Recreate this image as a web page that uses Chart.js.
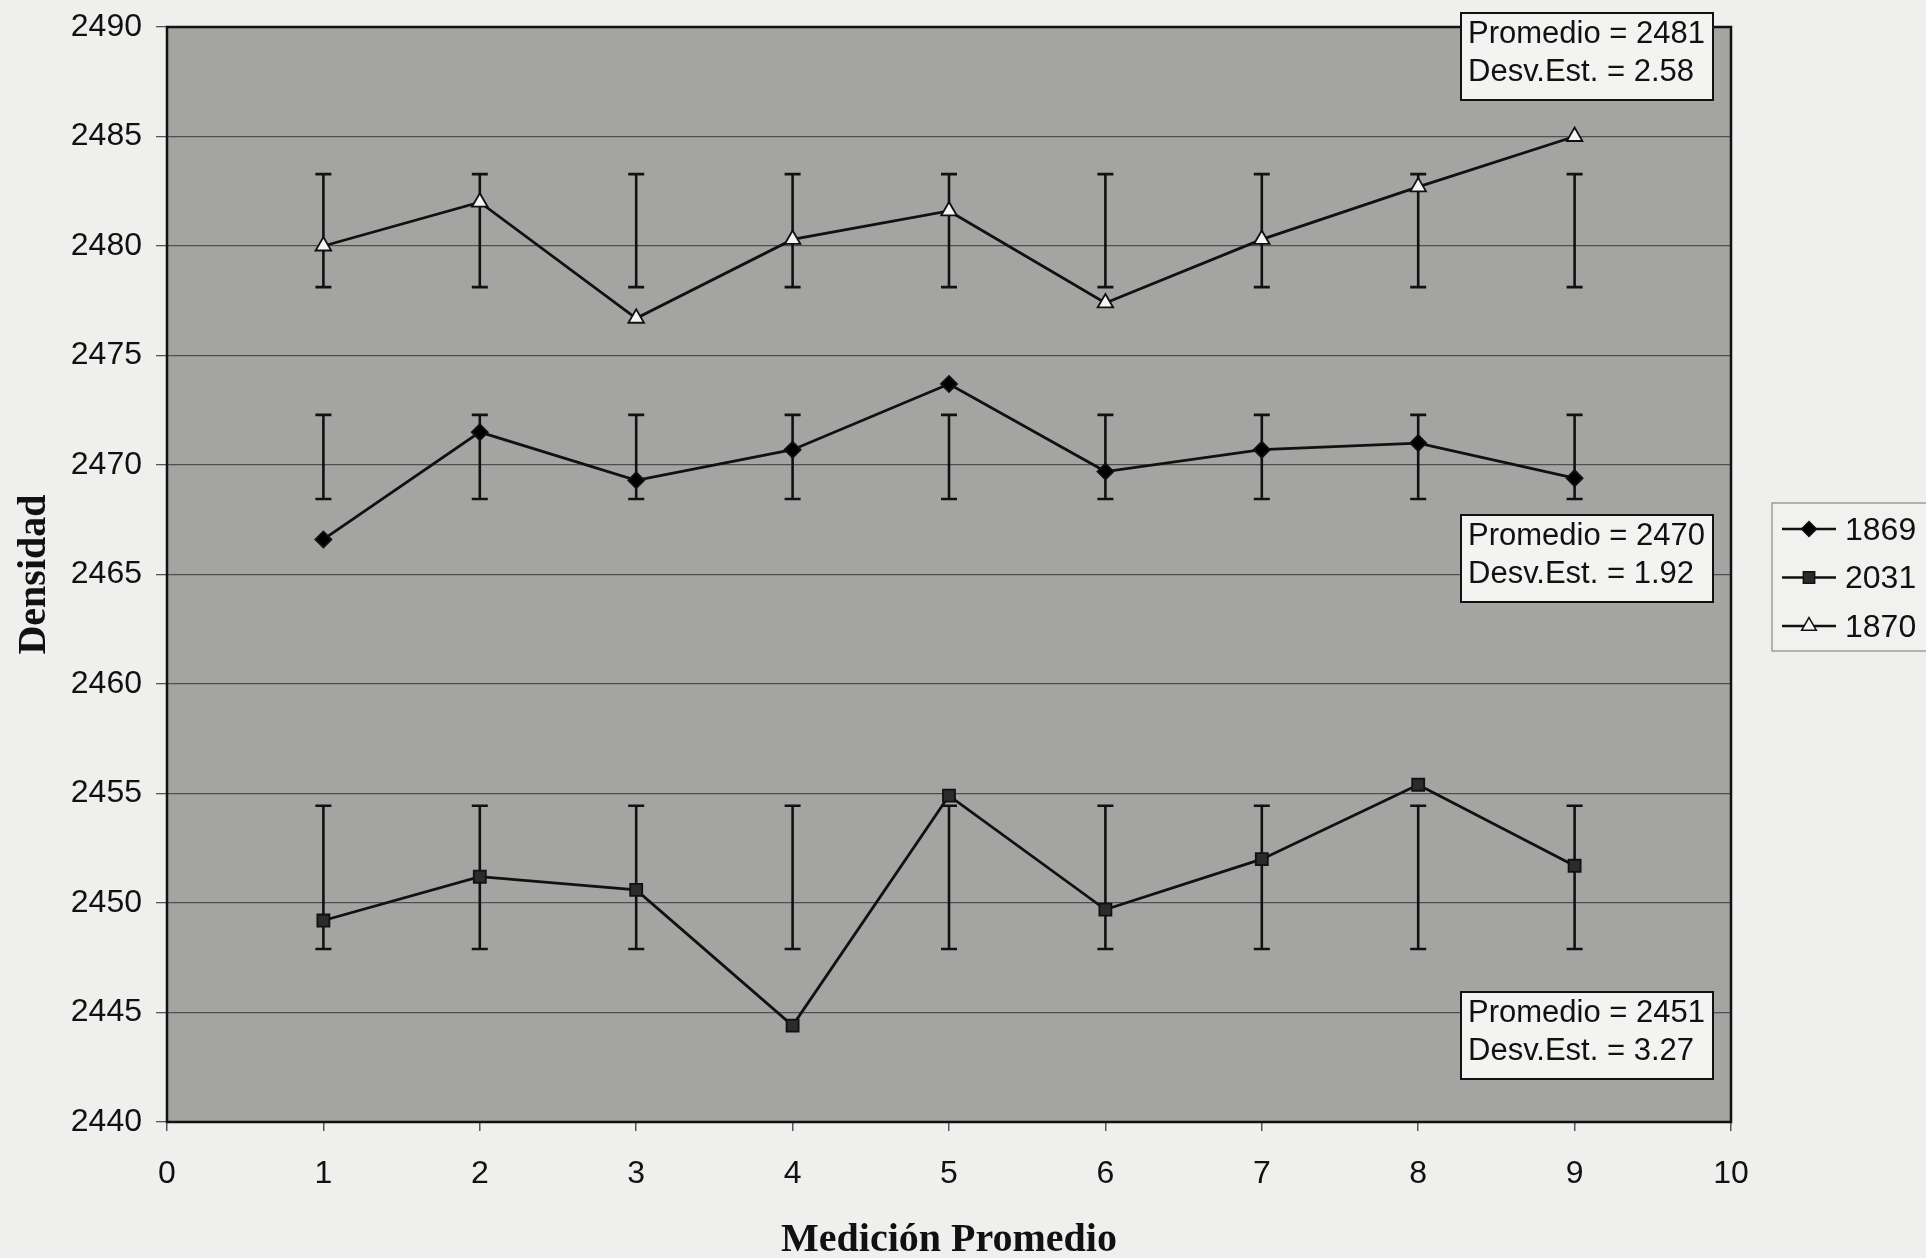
<!DOCTYPE html>
<html>
<head>
<meta charset="utf-8">
<script src="https://cdn.jsdelivr.net/npm/chart.js@4.4.1/dist/chart.umd.min.js"></script>
<style>
  html, body { margin: 0; padding: 0; background: #efefed; }
  canvas { display: block; }
</style>
</head>
<body>
<canvas id="grafico" width="1926" height="1258"></canvas>
<script>
// Datos
const mediciones = [1, 2, 3, 4, 5, 6, 7, 8, 9];
const nombresSeries = ['1869', '2031', '1870'];
const serie1869 = [2466.6, 2471.5, 2469.3, 2470.7, 2473.7, 2469.7, 2470.7, 2471.0, 2469.4];
const serie2031 = [2449.2, 2451.2, 2450.6, 2444.4, 2454.9, 2449.7, 2452.0, 2455.4, 2451.7];
const serie1870 = [2480.0, 2482.0, 2476.7, 2480.3, 2481.6, 2477.4, 2480.3, 2482.7, 2485.0];
// promedio y desviacion estandar por serie (barras de error = promedio +/- desv.)
const promedios = [2470.37, 2451.17, 2480.70];
const desvEst = [1.92, 3.27, 2.58];
const ticksY = [2440, 2445, 2450, 2455, 2460, 2465, 2470, 2475, 2480, 2485, 2490];
const ticksX = [0, 1, 2, 3, 4, 5, 6, 7, 8, 9, 10];

const FUENTE = '"Liberation Sans", Arial, sans-serif';
const FUENTE_SERIF = '"Liberation Serif", "Times New Roman", serif';

const estilos = [
    { pointStyle: 'rectRot', fill: '#000', radius: 8 },
    { pointStyle: 'rect', fill: '#2b2b2b', radius: 8.5 },
    { pointStyle: 'triangle', fill: '#f4f4f2', radius: 9 }
];
const valores = [serie1869, serie2031, serie1870];

// cuadros de texto: indice de serie y posicion vertical
const cuadros = [
    { serie: 2, top: 13 },
    { serie: 0, top: 515 },
    { serie: 1, top: 992 }
];

const fondoPlugin = {
    id: 'fondo',
    beforeDraw(chart) {
        const { ctx, chartArea: a } = chart;
        ctx.save();
        ctx.fillStyle = '#a4a4a3';
        ctx.fillRect(a.left, a.top, a.right - a.left, a.bottom - a.top);
        ctx.restore();
    }
};

const barrasErrorPlugin = {
    id: 'barrasError',
    beforeDatasetsDraw(chart) {
        const { ctx } = chart;
        const x = chart.scales.x, y = chart.scales.y;
        ctx.save();
        ctx.strokeStyle = '#111';
        ctx.lineWidth = 2.6;
        promedios.forEach((m, i) => {
            const y1 = y.getPixelForValue(m + desvEst[i]);
            const y2 = y.getPixelForValue(m - desvEst[i]);
            mediciones.forEach(v => {
                const px = x.getPixelForValue(v);
                ctx.beginPath();
                ctx.moveTo(px, y1); ctx.lineTo(px, y2);
                ctx.moveTo(px - 8, y1); ctx.lineTo(px + 8, y1);
                ctx.moveTo(px - 8, y2); ctx.lineTo(px + 8, y2);
                ctx.stroke();
            });
        });
        ctx.restore();
    }
};

const extrasPlugin = {
    id: 'extras',
    afterDraw(chart) {
        const { ctx, chartArea: a } = chart;
        ctx.save();
        // borde del area
        ctx.strokeStyle = '#111';
        ctx.lineWidth = 2.5;
        ctx.strokeRect(a.left, a.top, a.right - a.left, a.bottom - a.top);

        // cuadros Promedio / Desv.Est.
        ctx.font = '31px ' + FUENTE;
        ctx.textBaseline = 'middle';
        ctx.textAlign = 'left';
        cuadros.forEach(c => {
            const left = a.right - 270, w = 252, h = 87;
            ctx.fillStyle = '#f3f3f1';
            ctx.fillRect(left, c.top, w, h);
            ctx.strokeStyle = '#111';
            ctx.lineWidth = 2;
            ctx.strokeRect(left, c.top, w, h);
            ctx.fillStyle = '#111';
            ctx.fillText('Promedio = ' + Math.round(promedios[c.serie]), left + 7, c.top + 21);
            ctx.fillText('Desv.Est. = ' + desvEst[c.serie].toFixed(2), left + 7, c.top + 59);
        });

        // leyenda
        const lx = a.right + 41, ly = 503;
        ctx.fillStyle = '#f1f1ef';
        ctx.fillRect(lx, ly, 160, 148);
        ctx.strokeStyle = '#8a8a8a';
        ctx.lineWidth = 1.2;
        ctx.strokeRect(lx, ly, 160, 148);
        ctx.font = '32px ' + FUENTE;
        nombresSeries.forEach((n, i) => {
            const cy = ly + 26 + i * 48.5;
            ctx.strokeStyle = '#111';
            ctx.lineWidth = 2.6;
            ctx.beginPath();
            ctx.moveTo(lx + 10, cy); ctx.lineTo(lx + 64, cy);
            ctx.stroke();
            const e = estilos[i];
            ctx.fillStyle = e.fill;
            ctx.strokeStyle = '#111';
            ctx.lineWidth = 1.5;
            Chart.helpers.drawPoint(ctx, { pointStyle: e.pointStyle, radius: e.radius - 0.5, borderWidth: 1.5 }, lx + 37, cy);
            ctx.fillStyle = '#111';
            ctx.fillText(n, lx + 73, cy + 2);
        });
        ctx.restore();
    }
};

const datasets = nombresSeries.map((n, i) => ({
    label: n,
    data: mediciones.map((m, j) => ({ x: m, y: valores[i][j] })),
    borderColor: '#111',
    borderWidth: 2.8,
    pointStyle: estilos[i].pointStyle,
    pointRadius: estilos[i].radius,
    pointBackgroundColor: estilos[i].fill,
    pointBorderColor: '#111',
    pointBorderWidth: 1.8,
    tension: 0,
    fill: false
}));

new Chart(document.getElementById('grafico'), {
    type: 'line',
    data: { datasets },
    options: {
        responsive: false,
        animation: false,
        devicePixelRatio: 1,
        layout: { padding: { top: 27, right: 195, bottom: 0, left: 0 } },
        plugins: {
            legend: { display: false },
            tooltip: { enabled: false }
        },
        scales: {
            x: {
                type: 'linear',
                min: 0,
                max: 10,
                afterBuildTicks: s => { s.ticks = ticksX.map(v => ({ value: v })); },
                afterFit: s => { s.height = 136; s.paddingLeft = 0; s.paddingRight = 0; },
                border: { display: false },
                grid: { drawOnChartArea: false, drawTicks: true, tickLength: 9, tickColor: '#555', lineWidth: 1.5 },
                ticks: { color: '#111', font: { family: FUENTE, size: 32 }, padding: 24, maxRotation: 0, callback: v => String(v) },
                title: {
                    display: true,
                    text: 'Medición Promedio',
                    color: '#111',
                    font: { family: FUENTE_SERIF, size: 40, weight: 'bold', lineHeight: 0.85 },
                    padding: { top: 0, bottom: 0 }
                }
            },
            y: {
                type: 'linear',
                min: 2440,
                max: 2490,
                afterBuildTicks: s => { s.ticks = ticksY.map(v => ({ value: v })); },
                afterFit: s => { s.width = 167; s.paddingTop = 0; s.paddingBottom = 0; },
                border: { display: false },
                grid: { color: '#4f4f4f', lineWidth: 1.3, drawTicks: true, tickLength: 11, tickColor: '#555' },
                ticks: { color: '#111', font: { family: FUENTE, size: 32 }, padding: 14, callback: v => String(v) },
                title: {
                    display: true,
                    text: 'Densidad',
                    color: '#111',
                    font: { family: FUENTE_SERIF, size: 40, weight: 'bold', lineHeight: 1.1 },
                    padding: { top: 13, bottom: 0 }
                }
            }
        }
    },
    plugins: [fondoPlugin, barrasErrorPlugin, extrasPlugin]
});
</script>
</body>
</html>
